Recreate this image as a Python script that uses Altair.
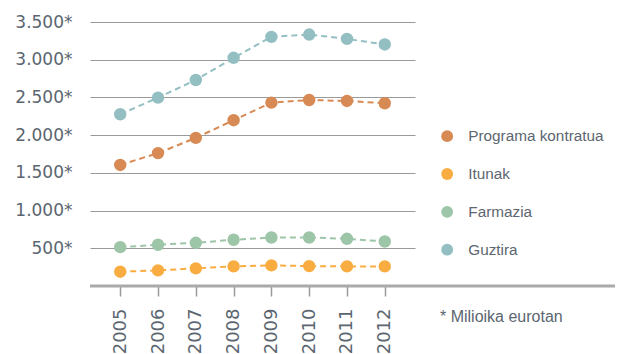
import altair as alt
import pandas as pd

# Annual amounts per item, in millions of euros
years = ["2005", "2006", "2007", "2008", "2009", "2010", "2011", "2012"]
programa_kontratua = [1605, 1762, 1964, 2198, 2431, 2466, 2453, 2423]
itunak = [190, 207, 234, 260, 273, 264, 260, 260]
farmazia = [515, 547, 573, 613, 643, 643, 626, 590]
guztira = [2277, 2497, 2731, 3025, 3303, 3334, 3276, 3202]

series_names = ["Programa kontratua", "Itunak", "Farmazia", "Guztira"]
series_colors = ["#D88A55", "#F9AD41", "#9DC5A8", "#94BFC2"]
y_ticks = [500, 1000, 1500, 2000, 2500, 3000, 3500]
footnote = "* Milioika eurotan"

rows = []
for name, values in zip(series_names, [programa_kontratua, itunak, farmazia, guztira]):
    for yr, v in zip(years, values):
        rows.append({"urtea": yr, "saila": name, "balioa": v})
df = pd.DataFrame(rows)

text_color = "#5B6670"
axis_font = "DejaVu Sans"
legend_font = "Liberation Sans"

x_enc = alt.X(
    "urtea:O",
    sort=years,
    scale=alt.Scale(type="point", padding=0.8),
    axis=alt.Axis(
        title=None,
        domain=False,
        grid=False,
        ticks=True,
        tickSize=10,
        tickColor="#9A9A9A",
        tickWidth=1.5,
        labelAngle=270,
        labelPadding=12,
        labelFont=axis_font,
        labelFontSize=18,
        labelColor=text_color,
    ),
)
y_enc = alt.Y(
    "balioa:Q",
    scale=alt.Scale(domain=[0, 3500], nice=False, zero=True),
    axis=alt.Axis(
        title=None,
        values=y_ticks,
        domain=False,
        ticks=False,
        grid=True,
        gridColor="#9A9A9A",
        gridWidth=1,
        labelPadding=18,
        labelFont=axis_font,
        labelFontSize=17,
        labelColor=text_color,
        labelExpr="replace(format(datum.value, ','), ',', '.') + '*'",
    ),
)
legend = alt.Legend(
    title=None,
    orient="none",
    legendX=349.5,
    legendY=106.5,
    direction="vertical",
    padding=0,
    rowPadding=21.85,
    symbolType="circle",
    symbolSize=140,
    symbolStrokeWidth=0,
    symbolOpacity=1,
    labelOffset=13.5,
    labelFont=legend_font,
    labelFontSize=15.3,
    labelColor=text_color,
    labelLimit=300,
)
color_enc = alt.Color(
    "saila:N",
    sort=series_names,
    scale=alt.Scale(domain=series_names, range=series_colors),
    legend=legend,
)

base = alt.Chart(df)

lines = base.mark_line(strokeDash=[6, 4], strokeWidth=2).encode(
    x=x_enc, y=y_enc, color=color_enc
)
points = base.mark_circle(size=154, opacity=1).encode(x=x_enc, y=y_enc, color=color_enc)

# Baseline at zero, running under the legend as well
baseline = alt.Chart(pd.DataFrame({"v": [0]})).mark_rule(color="#AAAAAA", strokeWidth=3).encode(
    y=alt.Y("v:Q", scale=alt.Scale(domain=[0, 3500], nice=False)),
    x=alt.value(0),
    x2=alt.value(525),
)

note = alt.Chart(pd.DataFrame({"t": [footnote]})).mark_text(
    align="left", baseline="middle", font=legend_font, fontSize=16, color=text_color
).encode(text="t:N", x=alt.value(350), y=alt.value(295))

chart = (
    alt.layer(lines, points, baseline, note)
    .resolve_legend(color="shared")
    .properties(
        width=325,
        height=264,
        autosize=alt.AutoSizeParams(type="none"),
        padding={"left": 90, "top": 22, "right": 207, "bottom": 68},
        background="white",
    )
    .configure_view(stroke=None)
)

chart.save("out.html", embed_options={"renderer": "svg", "actions": False})
